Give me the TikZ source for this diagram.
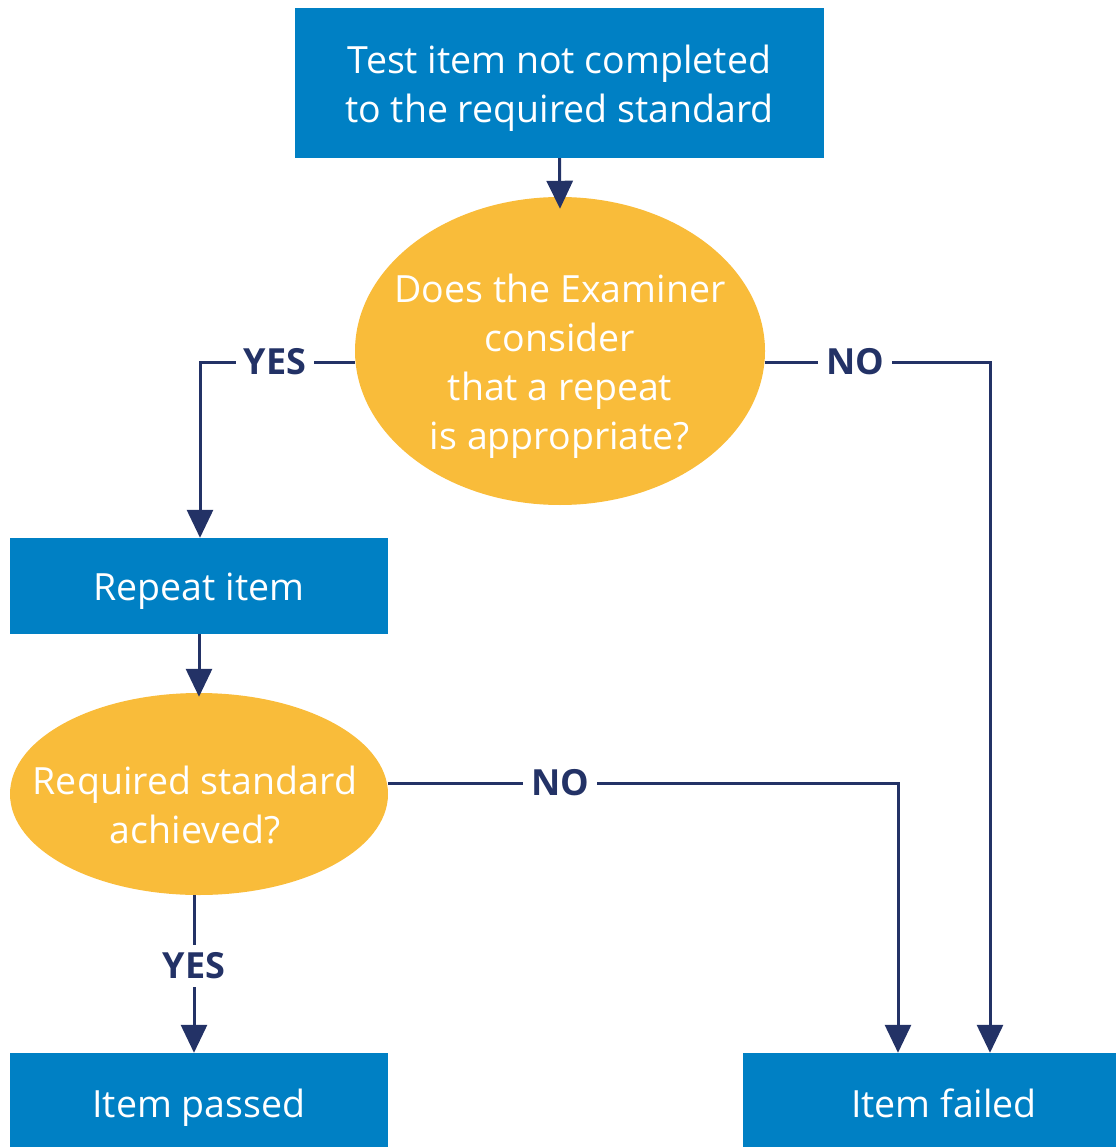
\documentclass[tikz,border=0pt]{standalone}
\usepackage{fontspec}
\setmainfont{Open Sans}
\usetikzlibrary{arrows.meta,shapes.geometric}
\definecolor{boxblue}{HTML}{0080C4}
\definecolor{ellorange}{HTML}{F9BC3A}
\definecolor{navy}{HTML}{233266}
\begin{document}
\begin{tikzpicture}[x=1pt,y=-1pt,
  bluebox/.style={fill=boxblue,draw=none,inner sep=0pt},
  decision/.style={ellipse,fill=ellorange,draw=none,inner sep=0pt},
  txt/.style={text=white,font=\fontsize{37.5}{49}\selectfont,align=center,inner sep=0pt},
  conn/.style={draw=navy,line width=3pt},
  arr/.style={conn,-{Triangle[width=26pt,length=28pt]}},
  lbl/.style={fill=white,text=navy,font=\bfseries\fontsize{36}{40}\selectfont,inner sep=8pt}]
\useasboundingbox (0,0) rectangle (1116,1147);
% shapes
\node[bluebox,minimum width=529pt,minimum height=150pt] (top) at (559.5,83) {};
\node[decision,minimum width=410pt,minimum height=308pt] (q1) at (560,351) {};
\node[bluebox,minimum width=378pt,minimum height=96pt] (rep) at (199,586) {};
\node[decision,minimum width=378pt,minimum height=202pt] (q2) at (199,794) {};
\node[bluebox,minimum width=378pt,minimum height=120pt] (pass) at (199,1113) {};
\node[bluebox,minimum width=373pt,minimum height=120pt] (fail) at (929.5,1113) {};
% texts
\node[txt] (toptxt) at (559.5,88) {Test item not completed\\to the required standard};
\node[txt] (q1txt) at (560,366) {Does the Examiner\\consider\\that a repeat\\is appropriate?};
\node[txt] (reptxt) at (199,591) {Repeat item};
\node[txt] (q2txt) at (195,805) {Required standard\\achieved?};
\node[txt] (passtxt) at (199,1108) {Item passed};
\node[txt] (failtxt) at (944,1103) {Item failed};
\coordinate (ylc) at (200,362);
\coordinate (nrc) at (990,362);
\coordinate (n2c) at (898,783);
% connectors
\draw[arr] (top.south) -- ([yshift=-12pt]q1.north);
\draw[arr] (q1.west |- ylc) -- (ylc) -- (ylc |- rep.north);
\draw[arr] (q1.east |- nrc) -- (nrc) -- (nrc |- fail.north);
\draw[arr] (rep.south) -- ([yshift=-4pt]q2.north);
\draw[arr] (q2.east |- n2c) -- (n2c) -- (n2c |- fail.north);
\draw[arr] ([xshift=-5pt]q2.south) -- ([xshift=-5pt]pass.north);
% labels
\node[lbl] (yes1) at (275,362) {YES};
\node[lbl] (no1) at (855,362) {NO};
\node[lbl] (no2) at (560,783) {NO};
\node[lbl] (yes2) at (194,966) {YES};
\end{tikzpicture}
\end{document}
